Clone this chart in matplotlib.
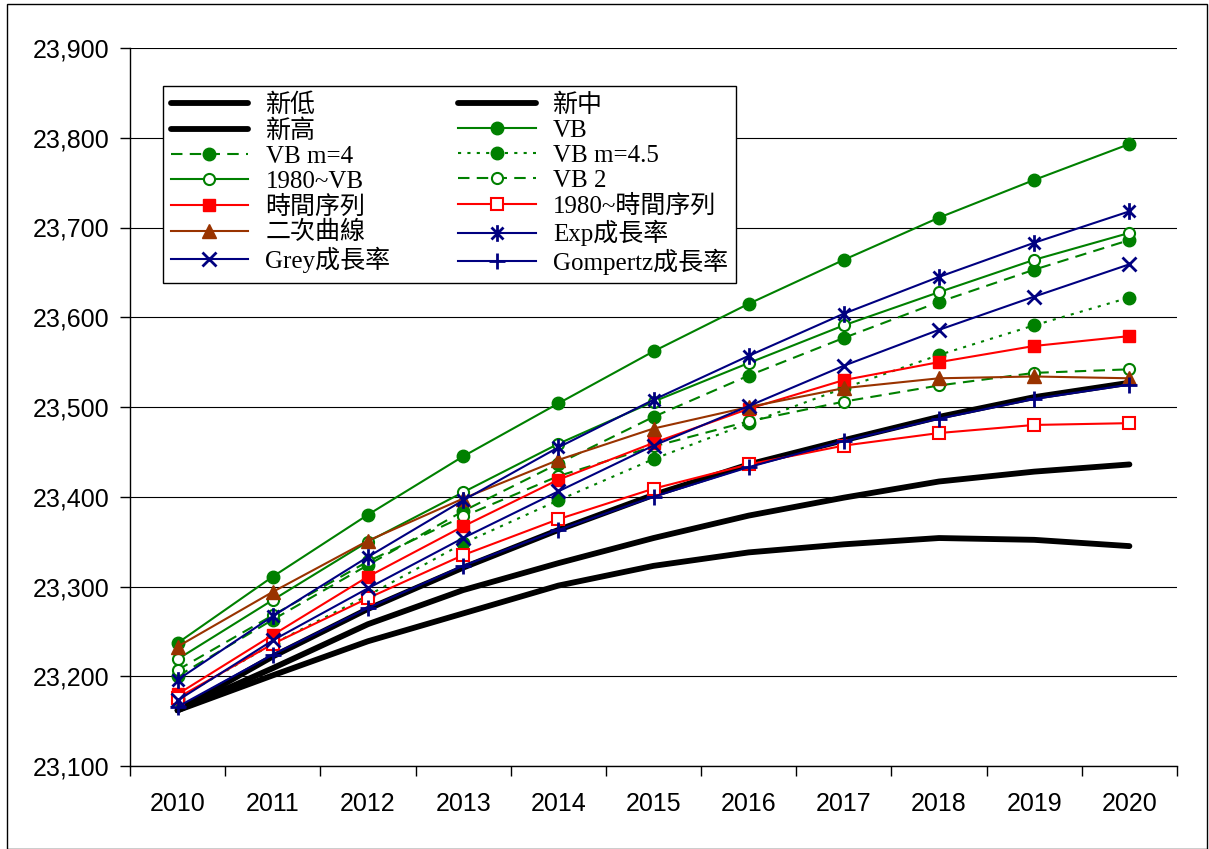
import matplotlib
matplotlib.use("Agg")
import matplotlib.pyplot as plt
from matplotlib.path import Path
from matplotlib.patches import Rectangle
from matplotlib.ticker import FuncFormatter, FixedLocator

plt.rcParams['font.family'] = ['Liberation Sans', 'Noto Sans CJK TC']

years = ['2010', '2011', '2012', '2013', '2014', '2015', '2016', '2017', '2018', '2019', '2020']

# population projections, thousand persons
new_low = [23162, 23201, 23239, 23270, 23301, 23323, 23338, 23347, 23354, 23352, 23345]
new_mid = [23162, 23209, 23258, 23296, 23326, 23354, 23379, 23399, 23417, 23428, 23436]
new_high = [23162, 23222, 23275, 23321, 23363, 23402, 23436, 23463, 23489, 23511, 23527]
vb = [23237, 23311, 23380, 23445, 23504, 23562, 23615, 23664, 23711, 23753, 23793]
vb_m4 = [23200, 23263, 23324, 23384, 23437, 23489, 23535, 23577, 23617, 23653, 23686]
vb_m45 = [23175, 23236, 23290, 23348, 23396, 23442, 23482, 23521, 23558, 23591, 23622]
vb_1980 = [23219, 23285, 23350, 23405, 23459, 23506, 23549, 23591, 23628, 23664, 23694]
vb2 = [23207, 23268, 23328, 23378, 23423, 23456, 23484, 23506, 23524, 23538, 23542]
ts = [23180, 23246, 23311, 23367, 23419, 23460, 23498, 23530, 23550, 23568, 23579]
ts_1980 = [23176, 23236, 23287, 23335, 23375, 23409, 23436, 23457, 23471, 23480, 23482]
quad = [23233, 23294, 23351, 23398, 23441, 23476, 23500, 23521, 23532, 23534, 23532]
exp_g = [23196, 23267, 23333, 23396, 23455, 23508, 23557, 23604, 23645, 23683, 23718]
grey = [23173, 23240, 23298, 23354, 23406, 23457, 23501, 23546, 23586, 23623, 23659]
gomp = [23166, 23224, 23276, 23323, 23363, 23400, 23433, 23462, 23487, 23509, 23525]

GREEN = '#008000'
RED = '#ff0000'
BROWN = '#993300'
NAVY = '#000080'

# asterisk: vertical bar plus an X
star = Path([(0, -1), (0, 1), (-0.72, -0.72), (0.72, 0.72), (-0.72, 0.72), (0.72, -0.72)],
            [Path.MOVETO, Path.LINETO] * 3)

dash = (0, (5.5, 3.5))
dot = (0, (1.5, 3))

series = [
    ('新低', new_low, dict(color='black', lw=4.2, solid_capstyle='round')),
    ('新中', new_mid, dict(color='black', lw=4.2, solid_capstyle='round')),
    ('新高', new_high, dict(color='black', lw=4.2, solid_capstyle='round')),
    ('VB', vb, dict(color=GREEN, lw=1.5, marker='o', ms=9)),
    ('VB m=4', vb_m4, dict(color=GREEN, lw=1.5, ls=dash, marker='o', ms=9)),
    ('VB m=4.5', vb_m45, dict(color=GREEN, lw=1.5, ls=dot, marker='o', ms=9)),
    ('1980~VB', vb_1980, dict(color=GREEN, lw=1.5, marker='o', ms=8, mfc='white', mew=1.5)),
    ('VB 2', vb2, dict(color=GREEN, lw=1.5, ls=dash, marker='o', ms=8, mfc='white', mew=1.5)),
    ('時間序列', ts, dict(color=RED, lw=1.5, marker='s', ms=9)),
    ('1980~時間序列', ts_1980, dict(color=RED, lw=1.5, marker='s', ms=8, mfc='white', mew=1.5)),
    ('二次曲線', quad, dict(color=BROWN, lw=1.5, marker='^', ms=10)),
    ('Exp成長率', exp_g, dict(color=NAVY, lw=1.5, marker=star, ms=12, mew=2)),
    ('Grey成長率', grey, dict(color=NAVY, lw=1.5, marker='x', ms=10, mew=2)),
    ('Gompertz成長率', gomp, dict(color=NAVY, lw=1.5, marker='+', ms=11, mew=2)),
]

fig = plt.figure(figsize=(12.09, 8.49), dpi=100)
ax = fig.add_axes([130 / 1209, 83 / 849, 1047 / 1209, 718 / 849])

x = list(range(len(years)))
handles = {}
for name, vals, kw in series:
    line, = ax.plot(x, vals, label=name, **kw)
    handles[name] = line

ax.set_xlim(-0.5, len(years) - 0.5)
ax.set_ylim(23100, 23900)
ax.set_yticks(range(23100, 23901, 100))
ax.yaxis.set_major_formatter(FuncFormatter(lambda v, p: f'{int(v):,}'))
ax.set_xticks(x)
ax.set_xticklabels(years)
ax.xaxis.set_minor_locator(FixedLocator([i + 0.5 for i in range(-1, len(years))]))
ax.tick_params(axis='x', which='major', length=0, pad=19, labelsize=18)
ax.tick_params(axis='x', which='minor', length=7, width=1, direction='out')
ax.tick_params(axis='y', length=7, width=1, direction='out', labelsize=18, pad=8)

ax.grid(axis='y', color='black', lw=0.8)
ax.set_axisbelow(True)
for side in ('top', 'right'):
    ax.spines[side].set_visible(False)
ax.spines['left'].set_linewidth(1)
ax.spines['bottom'].set_linewidth(1)

col1 = ['新低', '新高', 'VB m=4', '1980~VB', '時間序列', '二次曲線', 'Grey成長率']
col2 = ['新中', 'VB', 'VB m=4.5', 'VB 2', '1980~時間序列', 'Exp成長率', 'Gompertz成長率']
order = col1 + col2
leg = ax.legend([handles[n] for n in order], order, ncol=2, loc='upper left',
                bbox_to_anchor=(33 / 1047, 680 / 718),
                prop={'family': ['Liberation Serif', 'Noto Sans CJK TC'], 'size': 18},
                frameon=True, fancybox=False, framealpha=1, edgecolor='black',
                handlelength=3.1, handletextpad=0.7, columnspacing=2.7,
                labelspacing=0.1, borderpad=0.3, borderaxespad=0)
leg.get_frame().set_linewidth(1)

# outer chart border
fig.patches.append(Rectangle((7 / 1209, 0), 1200 / 1209, 845 / 849, transform=fig.transFigure,
                             fill=False, edgecolor='black', lw=1))

fig.savefig('out.png', dpi=100)
